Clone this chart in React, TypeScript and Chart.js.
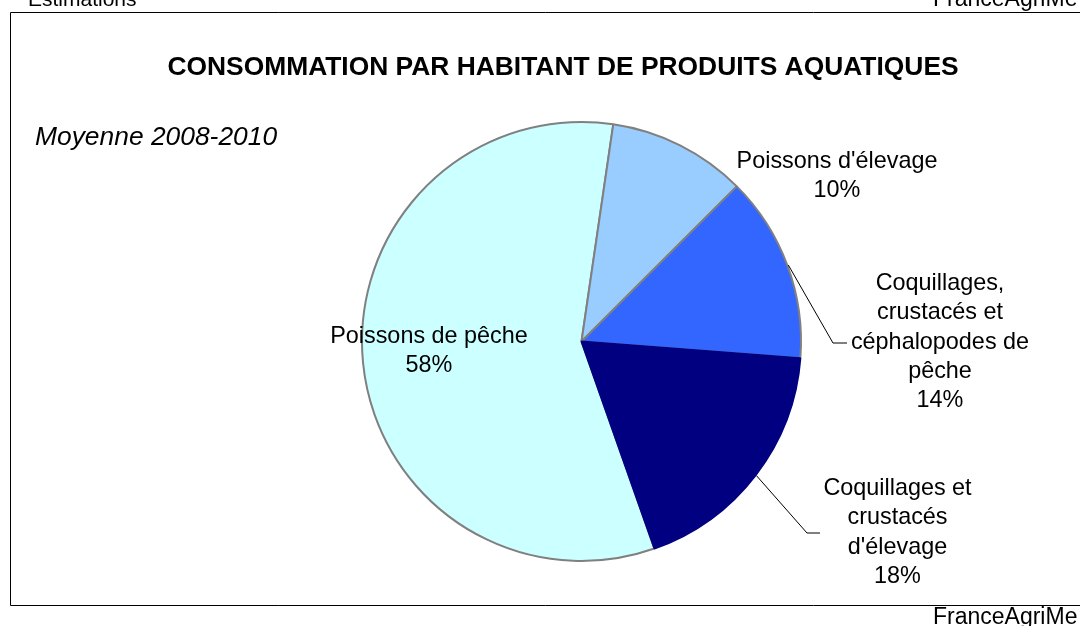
import React, { useEffect, useRef } from "react";
import { Chart, registerables } from "chart.js";

Chart.register(...registerables);

// clockwise from the start angle
const categories = [
  "Poissons de pêche",
  "Poissons d'élevage",
  "Coquillages, crustacés et céphalopodes de pêche",
  "Coquillages et crustacés d'élevage",
];
const shares = [57.7, 10.2, 13.7, 18.4];
const labelLines = [
  ["Poissons de pêche", "58%"],
  ["Poissons d'élevage", "10%"],
  ["Coquillages,", "crustacés et", "céphalopodes de", "pêche", "14%"],
  ["Coquillages et", "crustacés", "d'élevage", "18%"],
];
const sliceColors = ["#CCFFFF", "#99CCFF", "#3366FF", "#000080"];
const sliceBorders = ["#808080", "#808080", "#808080", "#000080"];

const titleText = "CONSOMMATION PAR HABITANT DE PRODUITS AQUATIQUES";
const subtitleText = "Moyenne 2008-2010";
const topLeftText = "Estimations";
const sourceText = "FranceAgriMe";

// label placement relative to pie centre (style config)
const labelStyle = [
  { dx: -152.5, dy: 1.5, leader: null as null | number[] },
  { dx: 255.5, dy: -173.5, leader: null as null | number[] },
  { dx: 358.5, dy: -51.5, leader: [251.5, 1.5, 265.5] },
  { dx: 316, dy: 153.5, leader: [225.5, 191.5, 238.5] },
];

const FONT = "'Liberation Sans', Arial, sans-serif";

const decorPlugin = {
  id: "decor",
  afterDraw(chart: any) {
    const ctx = chart.ctx as CanvasRenderingContext2D;
    const W = chart.width;
    ctx.save();
    // frame
    ctx.strokeStyle = "#000";
    ctx.lineWidth = 1;
    ctx.beginPath();
    ctx.moveTo(W + 5, 12.5);
    ctx.lineTo(10.5, 12.5);
    ctx.lineTo(10.5, 605.5);
    ctx.lineTo(W + 5, 605.5);
    ctx.stroke();

    ctx.fillStyle = "#000";
    ctx.textBaseline = "alphabetic";
    ctx.textAlign = "left";
    ctx.font = `21px ${FONT}`;
    ctx.fillText(topLeftText, 28, 6);
    ctx.font = `23px ${FONT}`;
    ctx.fillText(sourceText, 933, 6);
    ctx.fillText(sourceText, 933, 624);

    ctx.font = `bold 26.4px ${FONT}`;
    ctx.textAlign = "center";
    ctx.fillText(titleText, 563, 75);

    ctx.font = `italic 26.4px ${FONT}`;
    ctx.textAlign = "left";
    ctx.fillText(subtitleText, 35, 145);

    const meta = chart.getDatasetMeta(0);
    meta.data.forEach((arc: any, i: number) => {
      const { x, y, startAngle, endAngle, outerRadius } = arc.getProps(
        ["x", "y", "startAngle", "endAngle", "outerRadius"],
        true
      );
      const st = labelStyle[i];
      if (st.leader) {
        const mid = (startAngle + endAngle) / 2;
        ctx.strokeStyle = "#000";
        ctx.lineWidth = 1;
        ctx.beginPath();
        ctx.moveTo(x + Math.cos(mid) * (outerRadius + 1), y + Math.sin(mid) * (outerRadius + 1));
        ctx.lineTo(x + st.leader[0], y + st.leader[1]);
        ctx.lineTo(x + st.leader[2], y + st.leader[1]);
        ctx.stroke();
      }
      ctx.fillStyle = "#000";
      ctx.font = `23.4px ${FONT}`;
      ctx.textAlign = "center";
      labelLines[i].forEach((line, k) => {
        ctx.fillText(line, x + st.dx, y + st.dy + k * 29.3);
      });
    });
    ctx.restore();
  },
};

export default function App() {
  const ref = useRef<HTMLCanvasElement>(null);
  useEffect(() => {
    if (!ref.current) return;
    const chart = new Chart(ref.current, {
      type: "pie",
      data: {
        labels: categories,
        datasets: [
          {
            data: shares,
            backgroundColor: sliceColors,
            borderColor: sliceBorders,
            borderWidth: 2,
          },
        ],
      },
      options: {
        animation: false,
        responsive: false,
        rotation: 160.6,
        radius: 219.5,
        layout: { padding: { left: 351.5, top: 111.5, right: 268.5, bottom: 54.5 } },
        plugins: {
          legend: { display: false },
          tooltip: { enabled: false },
          title: { display: false },
        },
      },
      plugins: [decorPlugin],
    });
    return () => chart.destroy();
  }, []);
  return (
    <div style={{ position: "absolute", left: 0, top: 0, width: 1080, height: 626, background: "#fff" }}>
      <canvas ref={ref} width={1080} height={626} style={{ width: 1080, height: 626, display: "block" }} />
    </div>
  );
}
